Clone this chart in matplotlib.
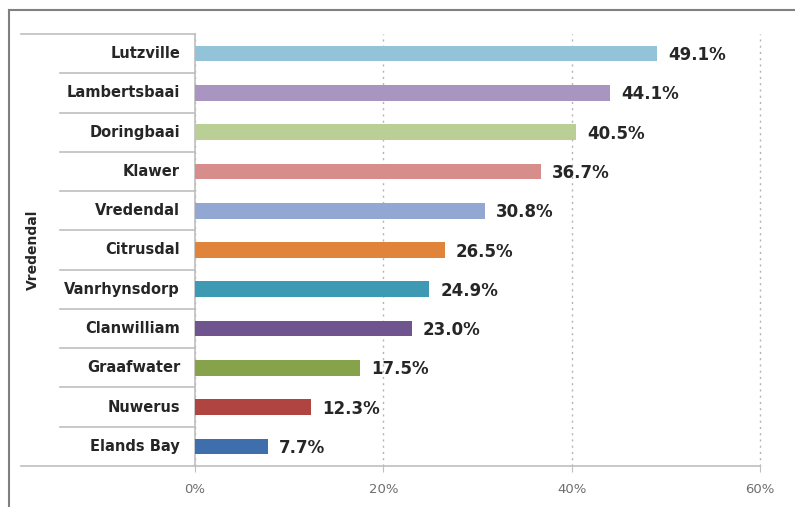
import matplotlib
matplotlib.use("Agg")
import matplotlib.pyplot as plt
from matplotlib.lines import Line2D
from matplotlib.transforms import blended_transform_factory

# Share of households per town (percent), top to bottom as drawn
towns = ["Lutzville", "Lambertsbaai", "Doringbaai", "Klawer", "Vredendal",
         "Citrusdal", "Vanrhynsdorp", "Clanwilliam", "Graafwater", "Nuwerus",
         "Elands Bay"]
values = [49.1, 44.1, 40.5, 36.7, 30.8, 26.5, 24.9, 23.0, 17.5, 12.3, 7.7]
colors = ["#92C3D8", "#A896C1", "#BACF96", "#D68D8B", "#92A8D3", "#E0833B",
          "#3D9AB2", "#6F548F", "#86A24B", "#AF4440", "#3F6EAD"]
group_label = "Vredendal"
xticks = [0, 20, 40, 60]
xtick_labels = ["0%", "20%", "40%", "60%"]

plt.rcParams["font.family"] = ["DejaVu Sans"]

W, H = 795, 507
fig = plt.figure(figsize=(W / 100, H / 100), dpi=100)

def fx(px):
    return px / W

def fy(py):
    return 1 - py / H

left_px, right_px, top_px, bottom_px = 195, 760, 34, 466
ax = fig.add_axes([fx(left_px), fy(bottom_px), fx(right_px - left_px),
                   (bottom_px - top_px) / H])

n = len(towns)
ypos = list(range(n))[::-1]
ax.barh(ypos, values, height=0.4, color=colors, zorder=3)
for y, v in zip(ypos, values):
    ax.text(v + 1.2, y - 0.04, f"{v:.1f}%", va="center", ha="left", fontsize=12,
            fontweight="bold", color="#262626")

ax.set_xlim(0, 60)
ax.set_ylim(-0.5, n - 0.5)
ax.set_xticks(xticks)
ax.set_xticklabels(xtick_labels, fontsize=9.5, color="#6E6E6E")
ax.set_yticks([])
ax.tick_params(axis="x", length=4, color="#BFBFBF", pad=8)

for s in ["top", "right"]:
    ax.spines[s].set_visible(False)
ax.spines["bottom"].set_color("#BFBFBF")
ax.spines["left"].set_color("#BFBFBF")
ax.spines["bottom"].set_linewidth(1.2)
ax.spines["left"].set_linewidth(1.2)

ax.xaxis.grid(True, linestyle=(0, (1.5, 3)), color="#B4B4B4", linewidth=1.0, zorder=0)
for gl in ax.get_xgridlines():
    gl.set_clip_on(False)
ax.set_axisbelow(True)

# Category labels in the left-hand table
trans = blended_transform_factory(fig.transFigure, ax.transData)
for y, name in zip(ypos, towns):
    ax.text(fx(180), y, name, transform=trans, ha="right", va="center",
            fontsize=10.5, fontweight="bold", color="#262626")

# Separator lines between categories
for k in range(n - 1):
    ax.add_line(Line2D([fx(60), fx(left_px)], [k + 0.5, k + 0.5], transform=trans,
                       color="#BFBFBF", linewidth=1.2, clip_on=False))
# Top and bottom rules of the label table
ax.add_line(Line2D([fx(21), fx(left_px)], [n - 0.5, n - 0.5], transform=trans,
                   color="#BFBFBF", linewidth=1.2, clip_on=False))
ax.add_line(Line2D([fx(21), fx(left_px)], [-0.5, -0.5], transform=trans,
                   color="#BFBFBF", linewidth=1.2, clip_on=False))

# Group label
fig.text(fx(33), fy((top_px + bottom_px) / 2), group_label, rotation=90,
         ha="center", va="center", fontsize=10, fontweight="bold", color="#262626")

# Outer frame
fig.add_artist(Line2D([fx(9), fx(9)], [fy(10), 0], color="#808080", linewidth=1.5))
fig.add_artist(Line2D([fx(9), 1], [fy(10), fy(10)], color="#808080", linewidth=1.5))

fig.savefig("out.png", dpi=100)
